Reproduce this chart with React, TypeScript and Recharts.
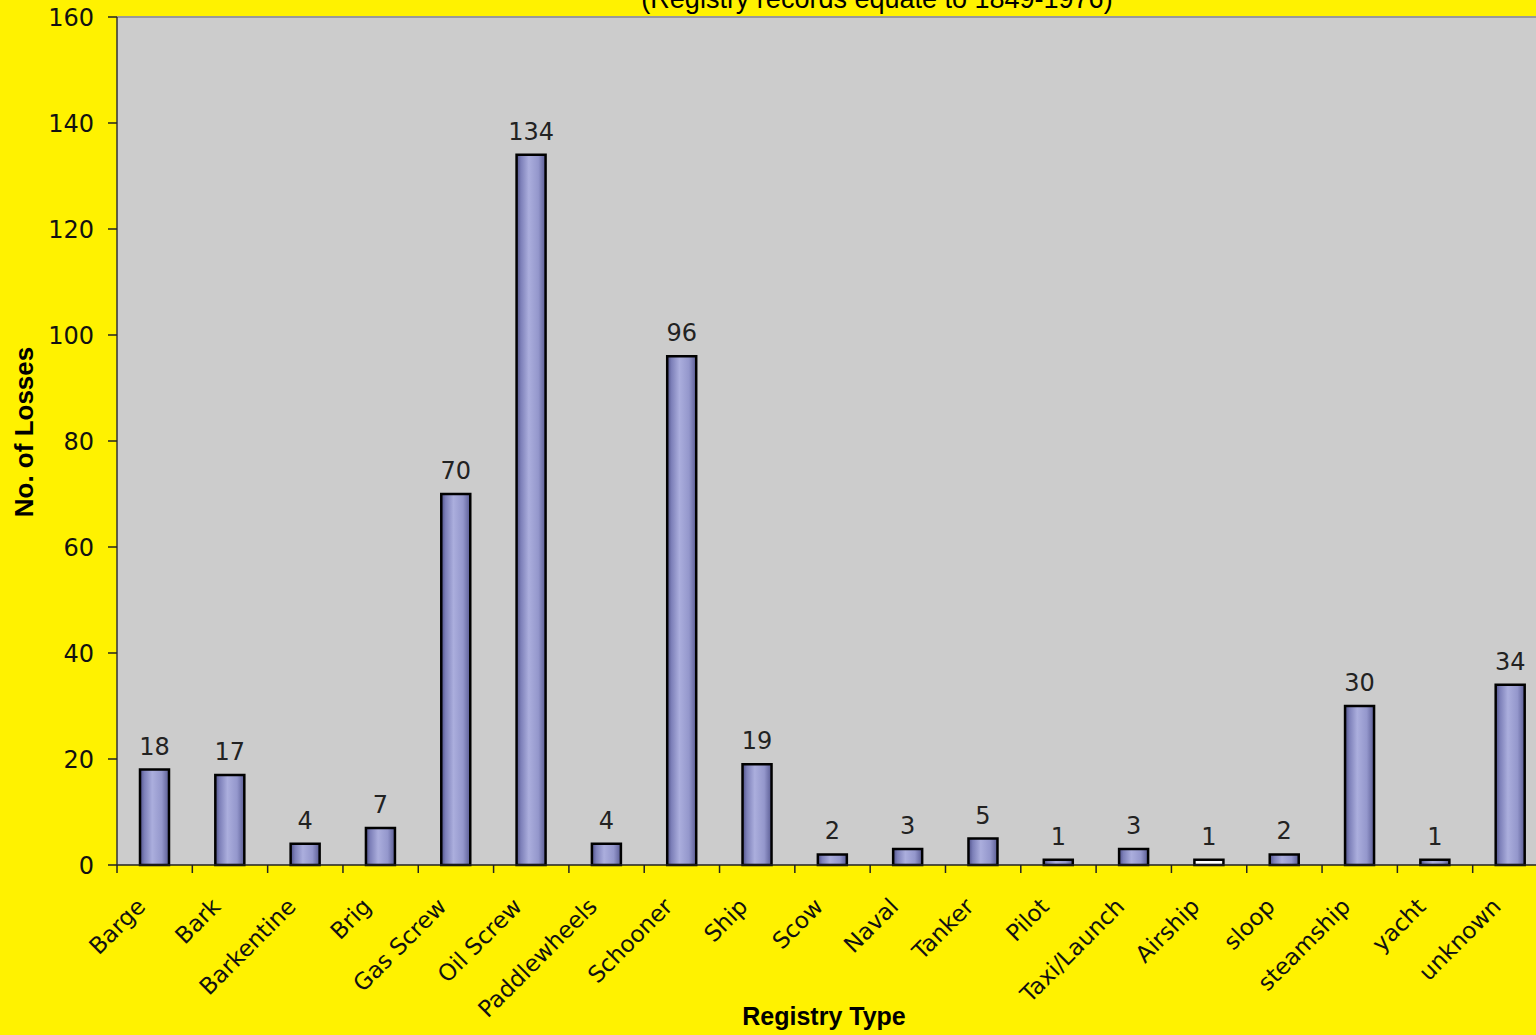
import React from 'react';
import { BarChart, Bar, XAxis, YAxis, CartesianGrid, LabelList, Cell, ReferenceLine, Customized } from 'recharts';

const registryTypes = [
  'Barge', 'Bark', 'Barkentine', 'Brig', 'Gas Screw', 'Oil Screw', 'Paddlewheels', 'Schooner', 'Ship', 'Scow',
  'Naval', 'Tanker', 'Pilot', 'Taxi/Launch', 'Airship', 'sloop', 'steamship', 'yacht', 'unknown',
];
const losses = [18, 17, 4, 7, 70, 134, 4, 96, 19, 2, 3, 5, 1, 3, 1, 2, 30, 1, 34];
const yTicks = [0, 20, 40, 60, 80, 100, 120, 140, 160];
const subtitle = '(Registry records equate to 1849-1976)';
const xTitle = 'Registry Type';
const yTitle = 'No. of Losses';

const data = registryTypes.map((name, i) => ({ name, losses: losses[i] }));

const YELLOW = '#fff200';
const PLOT_GRAY = '#cccccc';
const HALF_BAND = 37.65;

function CategoryTick(props: any) {
  const { x, y, payload } = props;
  return (
    <g>
      <line x1={x - HALF_BAND} y1={y} x2={x - HALF_BAND} y2={y + 8} stroke="#222" strokeWidth={1.5} />
      <g transform={`translate(${x - 8},${y + 43})`}>
        <text x={0} y={0} textAnchor="end" transform="rotate(-45)" fill="#111"
          style={{ fontFamily: '"DejaVu Sans", Verdana, sans-serif', fontSize: 23 }}>
          {payload.value}
        </text>
      </g>
    </g>
  );
}

function Titles() {
  return (
    <g>
      <text x={877} y={8} textAnchor="middle" fill="#000"
        style={{ fontFamily: '"Liberation Sans", Arial, sans-serif', fontSize: 27 }}>
        {subtitle}
      </text>
      <text x={824} y={1025} textAnchor="middle" fill="#000"
        style={{ fontFamily: '"Liberation Sans", Arial, sans-serif', fontSize: 25, fontWeight: 'bold' }}>
        {xTitle}
      </text>
      <text x={33} y={432} textAnchor="middle" fill="#000" transform="rotate(-90, 33, 432)"
        style={{ fontFamily: '"Liberation Sans", Arial, sans-serif', fontSize: 26, fontWeight: 'bold' }}>
        {yTitle}
      </text>
    </g>
  );
}

export default function App() {
  return (
    <div style={{ position: 'absolute', top: 0, left: 0, width: 1536, height: 1035, overflow: 'hidden', background: YELLOW }}>
      <BarChart width={1560} height={1035} data={data} margin={{ top: 17, right: 12, left: 0, bottom: 0 }}>
        <defs>
          <linearGradient id="barGrad" x1="0" y1="0" x2="1" y2="0">
            <stop offset="0%" stopColor="#4f5189" />
            <stop offset="15%" stopColor="#7d80b9" />
            <stop offset="42%" stopColor="#abaedd" />
            <stop offset="75%" stopColor="#9497cc" />
            <stop offset="100%" stopColor="#5a5c94" />
          </linearGradient>
        </defs>
        <CartesianGrid horizontal={false} vertical={false} fill={PLOT_GRAY} />
        <ReferenceLine y={160} stroke="#999" strokeWidth={2} />
        <XAxis dataKey="name" height={170} interval={0} tickLine={false} tickSize={0} tickMargin={0}
          axisLine={{ stroke: '#222', strokeWidth: 1.5 }} tick={<CategoryTick />} />
        <YAxis domain={[0, 160]} ticks={yTicks} width={117} tickSize={9} tickMargin={14}
          axisLine={{ stroke: '#333', strokeWidth: 1.5 }} tickLine={{ stroke: '#222', strokeWidth: 1.5 }}
          tick={{ fill: '#111', fontSize: 24, fontFamily: '"DejaVu Sans", Verdana, sans-serif' }} />
        <Bar dataKey="losses" barSize={29} fill="url(#barGrad)" stroke="#000" strokeWidth={2.5} isAnimationActive={false}>
          {data.map((d) => (
            <Cell key={d.name} fill={d.name === 'Airship' ? '#ffffff' : 'url(#barGrad)'} />
          ))}
          <LabelList dataKey="losses" position="top" offset={15} fill="#222"
            style={{ fontFamily: '"DejaVu Sans", Verdana, sans-serif', fontSize: 24 }} />
        </Bar>
        <Customized component={Titles} />
      </BarChart>
    </div>
  );
}
